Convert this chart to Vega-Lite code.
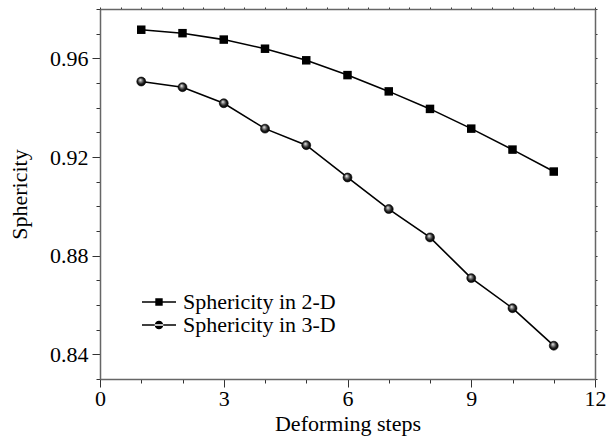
{
  "$schema": "https://vega.github.io/schema/vega-lite/v6.json",
  "width": 495,
  "height": 370,
  "autosize": {"type": "none"},
  "padding": {"left": 100, "top": 9, "right": 21, "bottom": 60},
  "background": "white",
  "config": {
    "view": {"stroke": null},
    "font": "Liberation Serif",
    "axis": {"labelFont": "Liberation Serif", "titleFont": "Liberation Serif", "labelColor": "black", "titleColor": "black", "grid": false, "domainColor": "#666666", "domainWidth": 1.5, "tickColor": "#333333", "tickWidth": 1}
  },
  "datasets": {
    "pts": [
      {"step": 1, "series": "Sphericity in 2-D", "value": 0.9716},
      {"step": 2, "series": "Sphericity in 2-D", "value": 0.9702},
      {"step": 3, "series": "Sphericity in 2-D", "value": 0.9676},
      {"step": 4, "series": "Sphericity in 2-D", "value": 0.9639},
      {"step": 5, "series": "Sphericity in 2-D", "value": 0.9592},
      {"step": 6, "series": "Sphericity in 2-D", "value": 0.9532},
      {"step": 7, "series": "Sphericity in 2-D", "value": 0.9466},
      {"step": 8, "series": "Sphericity in 2-D", "value": 0.9395},
      {"step": 9, "series": "Sphericity in 2-D", "value": 0.9315},
      {"step": 10, "series": "Sphericity in 2-D", "value": 0.9230},
      {"step": 11, "series": "Sphericity in 2-D", "value": 0.9141},
      {"step": 1, "series": "Sphericity in 3-D", "value": 0.9506},
      {"step": 2, "series": "Sphericity in 3-D", "value": 0.9483},
      {"step": 3, "series": "Sphericity in 3-D", "value": 0.9418},
      {"step": 4, "series": "Sphericity in 3-D", "value": 0.9315},
      {"step": 5, "series": "Sphericity in 3-D", "value": 0.9248},
      {"step": 6, "series": "Sphericity in 3-D", "value": 0.9117},
      {"step": 7, "series": "Sphericity in 3-D", "value": 0.8989},
      {"step": 8, "series": "Sphericity in 3-D", "value": 0.8874},
      {"step": 9, "series": "Sphericity in 3-D", "value": 0.8709},
      {"step": 10, "series": "Sphericity in 3-D", "value": 0.8587},
      {"step": 11, "series": "Sphericity in 3-D", "value": 0.8435}
    ]
  },
  "data": {"name": "pts"},
  "layer": [
    {
      "mark": {"type": "line", "color": "black", "strokeWidth": 1.6},
      "encoding": {
        "x": {"field": "step", "type": "quantitative", "scale": {"domain": [0, 12], "nice": false},
          "axis": {"orient": "bottom", "title": "Deforming steps", "titleFont": "Liberation Serif", "titleFontSize": 22, "titleFontWeight": "normal", "titlePadding": 4,
            "values": [0,0.5,1,1.5,2,2.5,3,3.5,4,4.5,5,5.5,6,6.5,7,7.5,8,8.5,9,9.5,10,10.5,11,11.5,12],
            "labelExpr": "datum.value % 3 === 0 ? datum.label : ''", "format": "d",
            "labelFont": "Liberation Serif", "labelFontSize": 22, "labelPadding": 1, "labelFlush": false, "labelOverlap": false,
            "tickSize": {"condition": {"test": "datum.value % 3 === 0", "value": 8}, "value": 4},
            "encode": {"labels": {"update": {"font": {"value": "Liberation Serif"}}}}}},
        "y": {"field": "value", "type": "quantitative", "scale": {"domain": [0.83, 0.98], "nice": false, "zero": false},
          "axis": {"orient": "left", "title": "Sphericity", "titleFont": "Liberation Serif", "titleFontSize": 22, "titleFontWeight": "normal", "titlePadding": 18,
            "values": [0.83,0.84,0.85,0.86,0.87,0.88,0.89,0.9,0.91,0.92,0.93,0.94,0.95,0.96,0.97,0.98],
            "labelExpr": "round(datum.value * 100) % 4 === 0 ? format(datum.value, '.2f') : ''",
            "labelFont": "Liberation Serif", "labelFontSize": 22, "labelPadding": 4, "labelFlush": false, "labelOverlap": false,
            "tickSize": {"condition": {"test": "round(datum.value * 100) % 4 === 0", "value": 8}, "value": 4},
            "encode": {"labels": {"update": {"font": {"value": "Liberation Serif"}}}}}},
        "detail": {"field": "series", "type": "nominal"}
      }
    },
    {
      "transform": [{"filter": "datum.series === 'Sphericity in 2-D'"}],
      "mark": {"type": "point", "shape": "square", "filled": true, "color": "black", "size": 72, "opacity": 1},
      "encoding": {
        "x": {"field": "step", "type": "quantitative", "scale": {"domain": [0, 12], "nice": false},
          "axis": {"orient": "top", "title": null, "labels": false,
            "values": [0,0.5,1,1.5,2,2.5,3,3.5,4,4.5,5,5.5,6,6.5,7,7.5,8,8.5,9,9.5,10,10.5,11,11.5,12], "tickSize": 2}},
        "y": {"field": "value", "type": "quantitative", "scale": {"domain": [0.83, 0.98], "nice": false, "zero": false},
          "axis": {"orient": "right", "title": null, "labels": false,
            "values": [0.83,0.84,0.85,0.86,0.87,0.88,0.89,0.9,0.91,0.92,0.93,0.94,0.95,0.96,0.97,0.98], "tickSize": 2}}
      }
    },
    {
      "transform": [{"filter": "datum.series === 'Sphericity in 3-D'"}],
      "mark": {"type": "point", "shape": "circle", "filled": true, "size": 80, "opacity": 1, "stroke": "black", "strokeWidth": 0.6,
        "fill": {"gradient": "radial", "x1": 0.38, "y1": 0.32, "r1": 0, "x2": 0.5, "y2": 0.5, "r2": 0.55,
          "stops": [{"offset": 0, "color": "#ffffff"}, {"offset": 0.3, "color": "#8a8a8a"}, {"offset": 0.65, "color": "#1a1a1a"}, {"offset": 1, "color": "#000000"}]}},
      "encoding": {
        "x": {"field": "step", "type": "quantitative", "scale": {"domain": [0, 12], "nice": false}, "axis": null},
        "y": {"field": "value", "type": "quantitative", "scale": {"domain": [0.83, 0.98], "nice": false, "zero": false}, "axis": null}
      }
    },
    {
      "mark": {"type": "point", "filled": true, "color": "black", "opacity": 0},
      "encoding": {
        "x": {"field": "step", "type": "quantitative", "scale": {"domain": [0, 12], "nice": false}, "axis": null},
        "y": {"field": "value", "type": "quantitative", "scale": {"domain": [0.83, 0.98], "nice": false, "zero": false}, "axis": null},
        "shape": {"field": "series", "type": "nominal",
          "scale": {"domain": ["Sphericity in 2-D", "Sphericity in 3-D"],
            "range": ["M-1.7,-0.075H1.7V0.075H-1.7ZM-0.37,-0.37H0.37V0.37H-0.37Z", "M-1.7,-0.075H1.7V0.075H-1.7ZM-0.43,0A0.43,0.43,0,1,0,0.43,0A0.43,0.43,0,1,0,-0.43,0Z"]},
          "legend": {"orient": "none", "legendX": 48, "legendY": 282, "title": null, "padding": 0,
            "symbolSize": 400, "symbolStrokeWidth": 0, "symbolFillColor": "black", "symbolOpacity": 1,
            "labelFont": "Liberation Serif", "labelFontSize": 22, "labelColor": "black", "labelOffset": 13, "rowPadding": 1,
            "encode": {"symbols": {"update": {"opacity": {"value": 1}, "fillOpacity": {"value": 1}, "fill": {"value": "black"}, "strokeWidth": {"value": 0}}}, "labels": {"update": {"font": {"value": "Liberation Serif"}}}}}}
      }
    }
  ],
  "resolve": {"axis": {"x": "independent", "y": "independent"}}
}
